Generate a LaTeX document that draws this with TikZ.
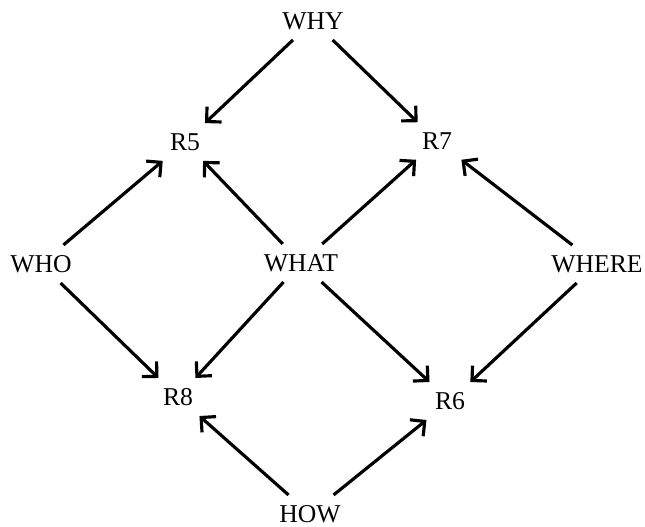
\documentclass[tikz,border=0pt]{standalone}
\usepackage{fontspec}
\setmainfont{Liberation Serif}
\usetikzlibrary{arrows.meta}

\begin{document}
\begin{tikzpicture}[>={Straight Barb[angle=90:8.5pt]}, line width=1.8pt,
    every node/.style={inner sep=5pt, font=\fontsize{14.6}{16}\selectfont}]
        \useasboundingbox (0,0) rectangle (12.9,10.54);

        \node (why) at (6.26,10.12) {WHY};

        \node (r5) at (3.70,7.70) {R5};
        \node (r7) at (8.74,7.72) {R7};

        \node (who) at (0.82,5.26) {WHO};
        \node (what) at (6.02,5.28) {WHAT};
        \node (where) at (11.94,5.26) {WHERE};

        \node (r8) at (3.56,2.60) {R8};
        \node (r6) at (9.00,2.52) {R6};

        \node (how) at (6.20,0.26) {HOW};

        \draw[->] (why) -- (r5);
        \draw[->] (why) -- (r7);

        \draw[->] (who) -- (r5);
        \draw[->] (what) -- (r5);
        \draw[->] (what) -- (r7);
        \draw[->] (where) -- (r7);

        \draw[->] (who) -- (r8);
        \draw[->] (what) -- (r8);
        \draw[->] (what) -- (r6);
        \draw[->] (where) -- (r6);

        \draw[->] (how) -- (r8);
        \draw[->] (how) -- (r6);
      \end{tikzpicture}
\end{document}
